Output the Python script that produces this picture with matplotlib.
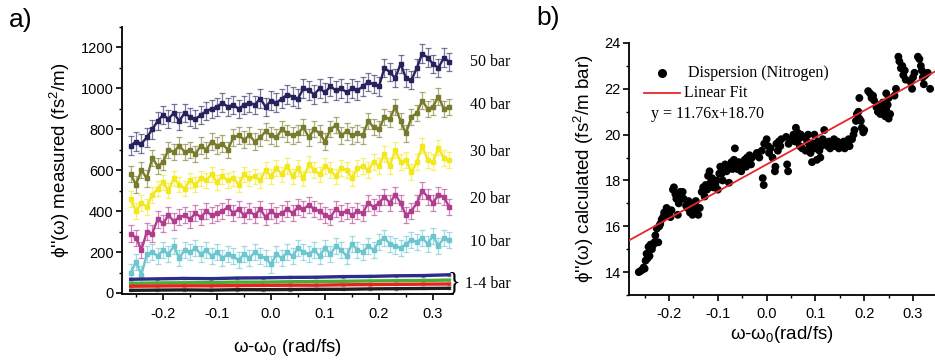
import numpy as np
import matplotlib
matplotlib.use("Agg")
import matplotlib.pyplot as plt
from matplotlib.colors import to_rgba
from matplotlib.ticker import MultipleLocator

plt.rcParams['font.family'] = ['Liberation Sans', 'DejaVu Sans']
plt.rcParams['mathtext.default'] = 'regular'

# ---------------- panel a data ----------------
x_a = np.round(np.linspace(-0.26, 0.33, 60), 3)

bar50 = [720, 740, 730, 760, 800, 840, 870, 850, 880, 840,
         880, 860, 850, 870, 890, 900, 910, 930, 910, 920,
         900, 920, 930, 920, 950, 910, 940, 930, 950, 970,
         960, 950, 1000, 990, 970, 1000, 980, 1010, 990, 1000,
         980, 1000, 990, 1010, 1030, 1020, 1010, 1100, 1080, 1050,
         1120, 1050, 1040, 1100, 1170, 1150, 1120, 1100, 1150, 1130]
bar40 = [580, 530, 600, 560, 660, 620, 640, 700, 690, 720,
         690, 700, 680, 720, 700, 740, 720, 730, 700, 760,
         770, 750, 770, 740, 760, 790, 770, 760, 800, 780,
         770, 780, 810, 760, 800, 780, 740, 800, 820, 770,
         790, 770, 780, 770, 840, 810, 800, 860, 850, 910,
         840, 780, 860, 880, 940, 900, 910, 960, 900, 910]
bar30 = [460, 400, 440, 420, 480, 510, 540, 500, 560, 530,
         510, 550, 530, 560, 550, 580, 540, 570, 550, 560,
         530, 580, 560, 570, 550, 600, 570, 610, 580, 620,
         570, 610, 560, 630, 600, 580, 620, 600, 570, 610,
         600, 560, 610, 620, 600, 640, 620, 680, 620, 700,
         640, 650, 590, 640, 720, 650, 640, 710, 660, 650]
bar20 = [290, 270, 210, 300, 290, 360, 340, 380, 350, 370,
         380, 360, 390, 370, 400, 380, 390, 400, 420, 390,
         410, 380, 400, 380, 410, 370, 400, 380, 390, 410,
         390, 420, 410, 430, 410, 400, 380, 370, 410, 390,
         400, 380, 400, 390, 440, 420, 440, 470, 440, 480,
         440, 380, 400, 440, 500, 470, 440, 480, 470, 420]
bar10 = [100, 150, 90, 190, 200, 180, 210, 190, 230, 170,
         210, 200, 220, 190, 210, 180, 200, 170, 190, 180,
         160, 190, 170, 200, 180, 170, 140, 190, 170, 200,
         180, 220, 200, 190, 210, 180, 220, 190, 230, 210,
         180, 240, 210, 200, 230, 210, 250, 270, 240, 230,
         220, 240, 260, 250, 270, 240, 280, 230, 270, 260]
err_hi = [45, 40, 38, 40, 40]   # error half-widths for 50,40,30,20,10 bar

x_low = np.round(np.linspace(-0.26, 0.33, 13), 3)
bar4 = [67, 69, 71, 70, 73, 74, 76, 77, 80, 81, 84, 85, 89]
bar3 = [47, 49, 50, 51, 53, 53, 55, 56, 57, 59, 60, 61, 63]
bar2 = [33, 34, 35, 35, 36, 37, 38, 38, 40, 41, 42, 43, 44]
bar1 = [13, 14, 15, 14, 16, 16, 17, 18, 18, 20, 21, 22, 23]
err_low = 5

high_series = [("50 bar", bar50, "#25225c"), ("40 bar", bar40, "#787a2c"),
               ("30 bar", bar30, "#f2e81c"), ("20 bar", bar20, "#b23d8f"),
               ("10 bar", bar10, "#6cc6cf")]
low_series = [(bar4, "#2c2c8e"), (bar3, "#4cae30"), (bar2, "#e52420"), (bar1, "#1e1e1e")]

# ---------------- panel b data ----------------
bx = [-0.262, -0.258, -0.255, -0.252, -0.250, -0.248, -0.246, -0.244, -0.242, -0.240,
      -0.238, -0.235, -0.232, -0.230, -0.228, -0.225, -0.222, -0.220, -0.218, -0.215,
      -0.212, -0.210, -0.207, -0.205, -0.202, -0.200, -0.197, -0.195, -0.192, -0.190,
      -0.187, -0.185, -0.182, -0.180, -0.177, -0.175, -0.172, -0.170, -0.165, -0.162,
      -0.160, -0.157, -0.155, -0.152, -0.150, -0.147, -0.145, -0.142, -0.140, -0.137,
      -0.133, -0.130, -0.127, -0.125, -0.122, -0.120, -0.117, -0.115, -0.112, -0.110,
      -0.105, -0.102, -0.100, -0.097, -0.095, -0.092, -0.090, -0.087, -0.085, -0.082,
      -0.080, -0.065, -0.077, -0.072, -0.070, -0.067, -0.062, -0.060, -0.057, -0.055,
      -0.052, -0.050, -0.045, -0.042, -0.040, -0.037, -0.035, -0.032, -0.030, -0.008,
      -0.006, -0.020, -0.015, -0.010, -0.005, 0.000, 0.003, 0.005, 0.008, 0.012,
      0.017, 0.018, 0.020, 0.023, 0.025, 0.028, 0.030, 0.042, 0.044, 0.040,
      0.045, 0.050, 0.055, 0.058, 0.060, 0.063, 0.065, 0.068, 0.070, 0.073,
      0.075, 0.080, 0.083, 0.085, 0.088, 0.090, 0.093, 0.095, 0.098, 0.100,
      0.103, 0.105, 0.108, 0.110, 0.112, 0.115, 0.118, 0.120, 0.125, 0.128,
      0.130, 0.135, 0.138, 0.140, 0.145, 0.148, 0.150, 0.155, 0.158, 0.160,
      0.165, 0.168, 0.170, 0.175, 0.178, 0.180, 0.183, 0.185, 0.188, 0.190,
      0.190, 0.193, 0.195, 0.198, 0.200, 0.208, 0.212, 0.215, 0.218, 0.220,
      0.225, 0.228, 0.230, 0.233, 0.235, 0.238, 0.240, 0.243, 0.245, 0.248,
      0.250, 0.253, 0.245, 0.250, 0.262, 0.265, 0.270, 0.272, 0.275, 0.278,
      0.280, 0.283, 0.285, 0.295, 0.298, 0.300, 0.303, 0.310, 0.313, 0.316,
      0.318, 0.320, 0.322, 0.325, 0.330, 0.335]
by = [14.0, 14.05, 14.1, 14.2, 14.15, 14.5, 14.8, 14.6, 15.1, 14.7,
      15.2, 15.0, 15.2, 15.3, 15.6, 15.9, 15.3, 16.0, 16.1, 16.3,
      16.4, 16.6, 16.5, 16.8, 16.7, 16.6, 16.4, 16.7, 17.6, 17.7,
      17.4, 17.2, 16.5, 17.0, 17.5, 17.3, 17.5, 17.2, 16.9, 16.8,
      17.1, 16.6, 16.9, 16.5, 17.0, 16.7, 17.1, 16.8, 16.5, 16.8,
      17.5, 17.7, 17.3, 17.8, 17.6, 18.2, 18.4, 17.9, 18.1, 17.7,
      17.8, 18.0, 17.6, 18.3, 18.6, 18.3, 18.0, 18.5, 18.7, 18.4,
      18.6, 19.4, 17.9, 18.8, 18.5, 18.9, 18.7, 18.5, 18.8, 18.6,
      18.4, 18.7, 18.9, 18.6, 19.0, 18.8, 19.1, 18.7, 19.0, 18.1,
      17.8, 19.2, 19.0, 19.3, 19.6, 19.8, 19.5, 19.2, 19.4, 19.0,
      18.4, 18.6, 19.6, 19.3, 19.7, 19.5, 19.8, 18.7, 18.4, 19.9,
      19.6, 19.8, 20.0, 19.7, 20.3, 20.1, 19.8, 19.5, 20.0, 19.4,
      19.9, 19.3, 19.7, 20.0, 19.5, 19.2, 18.8, 19.6, 20.0, 19.4,
      18.9, 19.7, 19.3, 19.0, 19.5, 19.8, 20.2, 19.6, 19.5, 19.7,
      19.4, 19.6, 19.8, 19.5, 19.7, 19.4, 19.6, 19.5, 19.7, 19.4,
      19.6, 19.8, 19.5, 19.8, 20.0, 20.2, 20.6, 20.9, 21.0, 20.7,
      21.6, 20.6, 20.3, 20.1, 20.2, 21.9, 21.8, 21.6, 21.7, 21.5,
      21.2, 21.0, 21.3, 20.9, 21.2, 21.4, 21.0, 20.8, 21.1, 21.3,
      20.7, 20.9, 21.8, 21.6, 21.7, 22.0, 23.4, 23.2, 22.9, 23.0,
      22.6, 22.8, 22.4, 22.3, 22.0, 22.5, 22.7, 23.4, 23.3, 23.0,
      22.8, 22.5, 22.2, 22.6, 22.7, 22.0]
fit_slope = 11.76
fit_intercept = 18.70

# ---------------- figure ----------------
W, H = 935, 362
fig = plt.figure(figsize=(W / 100, H / 100), dpi=100)

def style_axes(ax):
    for s in ('top', 'right'):
        ax.spines[s].set_visible(False)
    for s in ('left', 'bottom'):
        ax.spines[s].set_linewidth(1.3)
    ax.tick_params(which='major', direction='out', length=4, width=1.2, labelsize=10.5, pad=2)
    ax.tick_params(axis='x', which='major', pad=5)
    ax.tick_params(which='minor', direction='out', length=2.5, width=1.0)

# panel a
axA = fig.add_axes([122 / W, (H - 294) / H, (453 - 122) / W, (294 - 27) / H])
for i, (label, vals, col) in enumerate(high_series):
    axA.errorbar(x_a, vals, yerr=err_hi[i],
                 color=col, ecolor=to_rgba(col, 0.6), lw=1.7, marker='s', ms=2.8,
                 elinewidth=0.9, capsize=2.5, capthick=0.9, zorder=3)
for vals, col in low_series:
    axA.errorbar(x_low, vals, yerr=err_low, color=col, ecolor=to_rgba(col, 0.5),
                 lw=2.4, elinewidth=0.7, capsize=1.5, zorder=3)
axA.set_xlim(-0.276, 0.337)
axA.set_ylim(-5, 1300)
axA.xaxis.set_minor_locator(MultipleLocator(0.05))
axA.yaxis.set_major_locator(MultipleLocator(200))
axA.yaxis.set_minor_locator(MultipleLocator(100))
axA.set_xticks([-0.2, -0.1, 0.0, 0.1, 0.2, 0.3])
axA.set_xticklabels(['-0.2', '-0.1', '0.0', '0.1', '0.2', '0.3'])
style_axes(axA)
axA.set_ylabel("ϕ''(ω) measured (fs$^2$/m)", fontsize=13.5, labelpad=6)
axA.set_xlabel("ω-ω$_0$ (rad/fs)", fontsize=13.5, labelpad=12)

# right-hand labels for panel a
serif = ['Liberation Serif', 'DejaVu Serif']
for txt, ypx in [("50 bar", 62), ("40 bar", 105), ("30 bar", 152),
                 ("20 bar", 199), ("10 bar", 242)]:
    fig.text(470 / W, 1 - ypx / H, txt, family=serif, fontsize=11.5, va='center', ha='left')
fig.text(465 / W, 1 - 284 / H, "1-4 bar", family=serif, fontsize=11.5, va='center', ha='left')
fig.text(448 / W, 1 - 282 / H, "}", family=serif, fontsize=19, va='center', ha='left')

# panel b
axB = fig.add_axes([629 / W, (H - 295) / H, (W - 629) / W, (295 - 43) / H])
axB.scatter(bx, by, s=32, color='black', edgecolors='none', zorder=3,
            label='Dispersion (Nitrogen)')
xf = np.array([-0.282, 0.345])
axB.plot(xf, fit_slope * xf + fit_intercept, color='#e8262a', lw=1.3, zorder=4)
axB.set_xlim(-0.282, 0.345)
axB.set_ylim(13, 24)
axB.xaxis.set_minor_locator(MultipleLocator(0.05))
axB.yaxis.set_major_locator(MultipleLocator(2))
axB.yaxis.set_minor_locator(MultipleLocator(1))
axB.set_xticks([-0.2, -0.1, 0.0, 0.1, 0.2, 0.3])
axB.set_xticklabels(['-0.2', '-0.1', '0.0', '0.1', '0.2', '0.3'])
style_axes(axB)
axB.set_ylabel("ϕ''(ω) calculated (fs$^2$/m bar)", fontsize=13.5, labelpad=6)
axB.set_xlabel("ω-ω$_0$(rad/fs)", fontsize=13.5, labelpad=2)

# legend-like annotations in panel b (figure pixel positions)
fig.lines.append(plt.Line2D([662 / W], [1 - 73 / H], marker='o', ms=5.5, color='black',
                            transform=fig.transFigure, lw=0))
fig.text(688 / W, 1 - 73 / H, "Dispersion (Nitrogen)", family=serif, fontsize=11.5,
         va='center', ha='left')
fig.lines.append(plt.Line2D([644 / W, 680 / W], [1 - 93 / H, 1 - 93 / H], color='#e8262a',
                            lw=1.3, transform=fig.transFigure))
fig.text(684 / W, 1 - 93 / H, "Linear Fit", family=serif, fontsize=11.5, va='center', ha='left')
fig.text(651 / W, 1 - 114 / H, "y = 11.76x+18.70", family=serif, fontsize=11.5,
         va='center', ha='left')

# panel letters
fig.text(9 / W, 1 - 20 / H, "a)", fontsize=19, va='center', ha='left')
fig.text(536 / W, 1 - 18 / H, "b)", fontsize=19, va='center', ha='left')

fig.savefig("out.png", dpi=100)
